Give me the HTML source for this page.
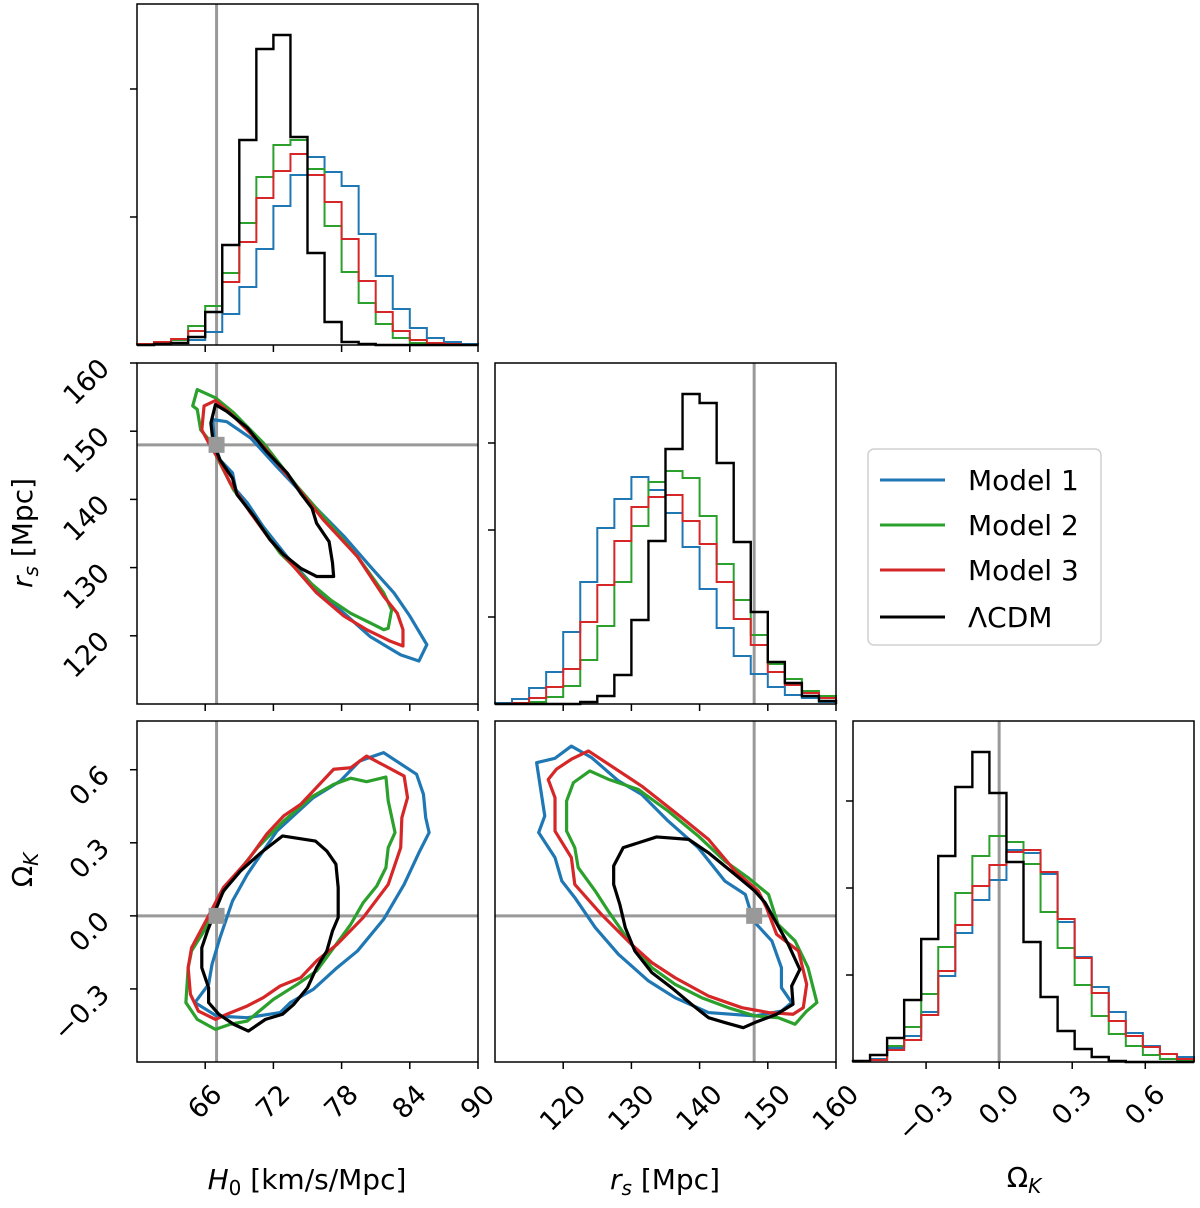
<!DOCTYPE html>
<html><head><meta charset="utf-8">
<style>
html,body{margin:0;padding:0;background:#fff;}
svg text{font-family:"DejaVu Sans","Liberation Sans",sans-serif;fill:#000;}
</style></head>
<body>
<svg id="fig" xmlns="http://www.w3.org/2000/svg" width="1200" height="1203" viewBox="0 0 1200 1203">
<rect width="1200" height="1203" fill="#fff"/>
<g id="plots"></g>
<g>
  <rect x="868" y="449" width="233" height="196" rx="6" fill="#fff" stroke="#d0d0d0" stroke-width="1.5"/>
  <g><line x1="880" y1="480" x2="945" y2="480" stroke="#1f77b4" stroke-width="3"/><text x="968" y="490" font-size="28">Model 1</text></g>
  <g><line x1="880" y1="525" x2="945" y2="525" stroke="#2ca02c" stroke-width="3"/><text x="968" y="535" font-size="28">Model 2</text></g>
  <g><line x1="880" y1="570" x2="945" y2="570" stroke="#d62728" stroke-width="3"/><text x="968" y="580" font-size="28">Model 3</text></g>
  <g><line x1="880" y1="617" x2="945" y2="617" stroke="#000" stroke-width="3"/><text x="968" y="627" font-size="28">ΛCDM</text></g>
</g>
<text x="307" y="1189" font-size="28" text-anchor="middle"><tspan font-style="italic">H</tspan><tspan font-size="20" dy="6">0</tspan><tspan dy="-6"> [km/s/Mpc]</tspan></text>
<text x="665" y="1189" font-size="28" text-anchor="middle"><tspan font-style="italic">r</tspan><tspan font-size="20" font-style="italic" dy="6">s</tspan><tspan dy="-6"> [Mpc]</tspan></text>
<text x="1024" y="1187" font-size="28" text-anchor="middle">Ω<tspan font-size="20" font-style="italic" dy="6">K</tspan></text>
<text transform="translate(32,533) rotate(-90)" font-size="28" text-anchor="middle"><tspan font-style="italic">r</tspan><tspan font-size="20" font-style="italic" dy="6">s</tspan><tspan dy="-6"> [Mpc]</tspan></text>
<text transform="translate(32,870) rotate(-90)" font-size="28" text-anchor="middle">Ω<tspan font-size="20" font-style="italic" dy="6">K</tspan></text>
</svg>
<script>
// ---- data ----
const colors = ["#1f77b4","#2ca02c","#d62728","#000000"];
const seriesNames = ["model-1","model-2","model-3","lcdm"];
const truthH0 = 67.0, truthRs = 148.0, truthOk = 0.0;
const rangeH0 = [60, 90], rangeRs = [110, 160], rangeOk = [-0.6, 0.8];
const ticksH0 = [66, 72, 78, 84, 90];
const ticksRs = [120, 130, 140, 150, 160];
const ticksOk = [-0.3, 0.0, 0.3, 0.6];
const tickLabelsH0 = ["66","72","78","84","90"];
const tickLabelsRs = ["120","130","140","150","160"];
const tickLabelsOk = ["\u22120.3","0.0","0.3","0.6"];
// histogram counts (20 bins)
const histH0Blue  = [0,1,2,5,13,31,58,96,139,170,188,173,159,111,69,36,17,7,3,1];
const histH0Green = [1,2,5,19,39,72,122,168,200,205,176,119,73,42,21,7,2,1,0,0];
const histH0Red   = [1,3,6,14,33,63,103,147,174,191,170,143,106,64,33,14,5,2,1,0];
const histH0Black = [0,1,2,8,33,100,205,296,310,208,92,23,3,1,0,0,0,0,0,0];
const histRsBlue  = [1,5,16,32,72,122,176,205,227,214,191,157,115,76,48,30,17,9,6,2];
const histRsGreen = [0,1,2,7,18,44,78,122,178,222,233,226,188,140,104,69,40,25,13,8];
const histRsRed   = [0,1,6,17,35,82,119,163,197,207,209,183,160,122,85,59,32,19,11,6];
const histRsBlack = [0,0,0,0,0,2,8,29,84,163,255,310,301,241,162,92,42,21,8,3];
const histOkBlue  = [1,3,14,26,50,86,129,162,182,212,209,188,140,105,75,50,29,16,8,5];
const histOkGreen = [1,2,16,35,68,115,169,206,226,220,198,150,114,77,46,28,16,7,3,1];
const histOkRed   = [1,2,12,22,47,91,137,176,197,210,212,190,143,104,69,41,26,15,8,3];
const histOkBlack = [1,7,24,62,123,206,275,310,269,200,120,65,31,13,5,1,0,0,0,0];
const histMax = 341;
const histTicks = [87, 174, 261];
// contours: H0 vs rs
const cHRsBlueX  = [66.7,67.9,70.0,72.3,75.3,78.2,80.5,82.6,84.0,85.5,84.8,83.2,80.5,78.5,75.8,73.2,71.1,69.7,68.7,68.4,67.3,66.8,66.7];
const cHRsBlueY  = [151.7,151.4,149.0,144.8,139.5,134.6,130.2,126.3,122.9,118.7,116.3,117.2,119.9,122.9,126.8,131.6,136.0,139.5,141.4,143.9,145.8,148.3,151.0];
const cHRsGreenX = [65.3,66.9,68.5,71.1,74.1,76.4,79.4,81.7,82.4,82.1,81.7,80.5,78.8,77.0,75.3,72.6,70.3,68.5,67.0,66.3,65.6,65.3,64.9];
const cHRsGreenY = [156.1,154.9,152.7,148.3,141.9,137.5,131.6,126.3,123.8,121.1,120.9,121.9,123.3,125.3,127.7,132.1,137.5,141.4,146.3,148.8,150.2,153.2,153.7];
const cHRsRedX   = [65.9,66.9,68.5,71.1,73.8,76.4,79.4,81.7,82.9,83.4,83.4,82.3,80.2,78.2,75.8,73.5,71.7,70.0,68.2,67.2,66.3,65.7];
const cHRsRedY   = [153.7,154.5,152.2,147.8,142.4,137.0,131.6,125.8,123.3,120.9,118.5,119.2,120.9,122.9,126.3,130.7,134.1,138.0,142.4,145.8,148.3,150.2];
const cHRsBlackX = [66.9,67.9,69.7,71.4,73.2,74.4,75.4,75.8,76.9,77.2,77.3,75.8,74.4,72.9,71.7,70.3,68.8,68.4,67.3,66.7,66.5];
const cHRsBlackY = [153.9,152.9,150.5,147.0,143.9,140.9,138.7,136.5,133.8,130.7,128.7,128.7,129.9,131.9,134.1,137.5,140.7,143.1,145.8,148.3,151.2];
// contours: H0 vs OmegaK
const cHOkBlueX  = [81.7,84.6,85.2,85.4,85.7,84.8,83.5,81.7,79.4,77.6,75.5,73.5,72.6,69.7,67.0,65.1,66.3,66.6,67.3,68.4,69.7,72.3,75.5,77.9,79.6];
const cHOkBlueY  = [0.670,0.581,0.499,0.403,0.342,0.259,0.129,-0.014,-0.144,-0.213,-0.302,-0.356,-0.397,-0.418,-0.411,-0.356,-0.281,-0.199,-0.090,0.061,0.170,0.348,0.485,0.554,0.636];
const cHOkGreenX = [78.8,80.2,81.9,82.1,82.7,82.1,81.9,81.1,79.9,78.8,77.3,75.8,74.1,72.0,69.7,68.2,66.9,65.3,64.3,64.5,64.8,65.9,67.0,68.5,70.6,72.9,75.5,77.3];
const cHOkGreenY = [0.565,0.551,0.570,0.472,0.342,0.280,0.198,0.123,0.054,-0.035,-0.131,-0.226,-0.281,-0.343,-0.432,-0.445,-0.466,-0.425,-0.356,-0.213,-0.144,-0.062,0.061,0.157,0.280,0.389,0.492,0.540];
const cHOkRedX   = [80.2,83.5,83.8,83.3,83.2,82.1,79.9,77.6,75.8,74.4,72.6,71.1,69.7,67.9,66.9,65.4,64.7,64.5,64.8,65.9,67.6,69.7,71.4,72.9,74.4,77.3,78.8];
const cHOkRedY   = [0.656,0.574,0.485,0.403,0.280,0.129,-0.007,-0.117,-0.185,-0.254,-0.288,-0.336,-0.370,-0.404,-0.425,-0.391,-0.322,-0.213,-0.131,-0.035,0.116,0.225,0.335,0.410,0.458,0.602,0.608];
const cHOkBlackX = [72.8,75.7,76.7,77.5,77.7,77.7,77.2,76.7,75.8,75.0,73.8,72.8,71.3,69.8,68.5,67.2,66.3,66.3,65.7,65.7,66.2,67.0,67.6,69.1,70.9];
const cHOkBlackY = [0.328,0.307,0.266,0.212,0.116,-0.007,-0.062,-0.144,-0.213,-0.295,-0.363,-0.404,-0.425,-0.473,-0.445,-0.404,-0.356,-0.295,-0.213,-0.131,-0.062,0.034,0.102,0.184,0.259];
// contours: rs vs OmegaK
const cRsOkBlueX  = [121.2,124.2,128.1,131.5,135.4,139.8,143.7,146.7,147.9,150.6,152.0,152.0,153.5,152.0,148.1,141.3,136.4,132.5,128.1,124.7,121.7,119.8,118.8,116.4,117.3,116.1,118.8];
const cRsOkBlueY  = [0.697,0.649,0.554,0.499,0.389,0.280,0.143,0.088,-0.021,-0.103,-0.213,-0.295,-0.356,-0.391,-0.411,-0.397,-0.336,-0.267,-0.158,-0.048,0.075,0.143,0.239,0.342,0.410,0.629,0.647];
const cRsOkGreenX = [123.9,126.6,131.0,135.4,139.8,143.7,147.1,150.1,151.5,154.0,155.9,157.2,155.7,154.0,151.5,148.1,144.2,140.3,136.4,133.0,130.0,126.6,124.7,122.2,121.7,120.5,120.5,121.5];
const cRsOkGreenY = [0.595,0.561,0.519,0.430,0.328,0.225,0.157,0.088,-0.035,-0.103,-0.213,-0.356,-0.391,-0.445,-0.418,-0.411,-0.377,-0.336,-0.281,-0.213,-0.117,0.020,0.102,0.198,0.280,0.348,0.472,0.547];
const cRsOkRedX   = [123.7,131.5,137.4,141.3,145.2,148.6,149.8,151.3,154.5,155.7,155.2,153.7,150.1,146.2,141.3,136.4,133.0,130.0,125.6,121.7,121.2,118.8,118.8,117.8,119.0,121.2];
const cRsOkRedY   = [0.677,0.533,0.403,0.314,0.184,0.102,0.034,-0.076,-0.144,-0.281,-0.377,-0.404,-0.397,-0.377,-0.329,-0.254,-0.192,-0.117,0.006,0.129,0.239,0.348,0.485,0.560,0.602,0.643];
const cRsOkBlackX = [128.8,133.7,138.4,141.3,145.2,148.1,149.6,151.1,153.0,154.7,153.5,153.7,151.3,148.1,146.4,143.7,141.3,138.8,135.9,133.0,130.5,129.1,128.3,127.4,127.4];
const cRsOkBlackY = [0.280,0.324,0.314,0.259,0.170,0.102,0.054,-0.021,-0.117,-0.220,-0.288,-0.363,-0.404,-0.438,-0.459,-0.438,-0.418,-0.363,-0.295,-0.233,-0.144,-0.048,0.047,0.129,0.205];

// ---- drawing ----
const NS = "http://www.w3.org/2000/svg";
const root = document.getElementById("plots");
function mk(tag, parent, attrs) {
  const e = document.createElementNS(NS, tag);
  for (const k in attrs) e.setAttribute(k, attrs[k]);
  parent.appendChild(e);
  return e;
}
function lin(d0, d1, p0, p1) { return v => p0 + (v - d0) / (d1 - d0) * (p1 - p0); }

const colX = [137, 495, 853], rowY = [4, 363, 721], PW = 341, PH = 341;

function panel(name, col, row) {
  const g = mk("g", root, {});
  
  
  return {g, x0: colX[col], y0: rowY[row]};
}
function spine(p) {
  const r = mk("rect", p.g, {x: p.x0, y: p.y0, width: PW, height: PH, fill: "none", stroke: "#000", "stroke-width": 1.5});
  
  
}
function xTicks(p, sx, ticks, labels) {
  const yb = p.y0 + PH;
  ticks.forEach((t, i) => {
    const x = sx(t);
    const l = mk("line", p.g, {x1: x, y1: yb, x2: x, y2: yb + 7, stroke: "#000", "stroke-width": 1.5});
    
    
    if (labels) {
      const tx = mk("text", p.g, {"font-size": 27, "text-anchor": "middle", "dominant-baseline": "central"});
      tx.textContent = labels[i];
      
      
      const w = tx.getComputedTextLength();
      const s = (w + 20) * 0.7071;
      tx.setAttribute("transform", `translate(${x},${yb + 21 + s / 2}) rotate(-45)`);
    }
  });
}
function yTicks(p, sy, ticks, labels) {
  ticks.forEach((t, i) => {
    const y = sy(t);
    const l = mk("line", p.g, {x1: p.x0 - 7, y1: y, x2: p.x0, y2: y, stroke: "#000", "stroke-width": 1.5});
    
    
    if (labels) {
      const tx = mk("text", p.g, {"font-size": 27, "text-anchor": "middle", "dominant-baseline": "central"});
      tx.textContent = labels[i];
      
      
      const w = tx.getComputedTextLength();
      const s = (w + 20) * 0.7071;
      tx.setAttribute("transform", `translate(${112 - s / 2},${y + s / 2 - 6}) rotate(-45)`);
    }
  });
}
function hist(p, sx, range, counts, color, idx) {
  const sy = lin(0, histMax, p.y0 + PH, p.y0);
  const n = counts.length, bw = (range[1] - range[0]) / n;
  let d = `M${sx(range[0])},${sy(0)}`;
  counts.forEach((c, i) => {
    d += ` L${sx(range[0] + i * bw)},${sy(c)} L${sx(range[0] + (i + 1) * bw)},${sy(c)}`;
  });
  d += ` L${sx(range[1])},${sy(0)}`;
  const e = mk("path", p.g, {d, fill: "none", stroke: color, "stroke-width": idx === 3 ? 2.4 : 2});
  
  
}
function contour(p, sx, sy, xs, ys, color, idx) {
  const pts = xs.map((v, i) => `${sx(v)},${sy(ys[i])}`).join(" ");
  const e = mk("polygon", p.g, {points: pts, fill: "none", stroke: color, "stroke-width": 3.2, "stroke-linejoin": "round"});
  
  
}
function vline(p, x) {
  const e = mk("line", p.g, {x1: x, y1: p.y0, x2: x, y2: p.y0 + PH, stroke: "#999", "stroke-width": 3});
  
  
}
function hline(p, y) {
  const e = mk("line", p.g, {x1: p.x0, y1: y, x2: p.x0 + PW, y2: y, stroke: "#999", "stroke-width": 3});
  
  
}
function marker(p, x, y) {
  const e = mk("rect", p.g, {x: x - 8, y: y - 8, width: 16, height: 16, fill: "#999"});
  
  
}

const sxH0 = lin(rangeH0[0], rangeH0[1], colX[0], colX[0] + PW);
const sxRs = lin(rangeRs[0], rangeRs[1], colX[1], colX[1] + PW);
const sxOk = lin(rangeOk[0], rangeOk[1], colX[2], colX[2] + PW);
const syRs = lin(rangeRs[0], rangeRs[1], rowY[1] + PH, rowY[1]);
const syOk = lin(rangeOk[0], rangeOk[1], rowY[2] + PH, rowY[2]);
const syHist0 = lin(0, histMax, rowY[0] + PH, rowY[0]);
const syHist1 = lin(0, histMax, rowY[1] + PH, rowY[1]);
const syHist2 = lin(0, histMax, rowY[2] + PH, rowY[2]);

let p = panel("histogram-h0", 0, 0);
vline(p, sxH0(truthH0));
[histH0Blue, histH0Green, histH0Red, histH0Black].forEach((h, i) => hist(p, sxH0, rangeH0, h, colors[i], i));
spine(p); xTicks(p, sxH0, ticksH0, null); yTicks(p, syHist0, [128, 256], null);

p = panel("contour-h0-rs", 0, 1);
vline(p, sxH0(truthH0)); hline(p, syRs(truthRs));
contour(p, sxH0, syRs, cHRsBlueX, cHRsBlueY, colors[0], 0);
contour(p, sxH0, syRs, cHRsGreenX, cHRsGreenY, colors[1], 1);
contour(p, sxH0, syRs, cHRsRedX, cHRsRedY, colors[2], 2);
contour(p, sxH0, syRs, cHRsBlackX, cHRsBlackY, colors[3], 3);
marker(p, sxH0(truthH0), syRs(truthRs));
spine(p); xTicks(p, sxH0, ticksH0, null); yTicks(p, syRs, ticksRs, tickLabelsRs);

p = panel("histogram-rs", 1, 1);
vline(p, sxRs(truthRs));
[histRsBlue, histRsGreen, histRsRed, histRsBlack].forEach((h, i) => hist(p, sxRs, rangeRs, h, colors[i], i));
spine(p); xTicks(p, sxRs, ticksRs, null); yTicks(p, syHist1, histTicks, null);

p = panel("contour-h0-omegak", 0, 2);
vline(p, sxH0(truthH0)); hline(p, syOk(truthOk));
contour(p, sxH0, syOk, cHOkBlueX, cHOkBlueY, colors[0], 0);
contour(p, sxH0, syOk, cHOkGreenX, cHOkGreenY, colors[1], 1);
contour(p, sxH0, syOk, cHOkRedX, cHOkRedY, colors[2], 2);
contour(p, sxH0, syOk, cHOkBlackX, cHOkBlackY, colors[3], 3);
marker(p, sxH0(truthH0), syOk(truthOk));
spine(p); xTicks(p, sxH0, ticksH0, tickLabelsH0); yTicks(p, syOk, ticksOk, tickLabelsOk);

p = panel("contour-rs-omegak", 1, 2);
vline(p, sxRs(truthRs)); hline(p, syOk(truthOk));
contour(p, sxRs, syOk, cRsOkBlueX, cRsOkBlueY, colors[0], 0);
contour(p, sxRs, syOk, cRsOkGreenX, cRsOkGreenY, colors[1], 1);
contour(p, sxRs, syOk, cRsOkRedX, cRsOkRedY, colors[2], 2);
contour(p, sxRs, syOk, cRsOkBlackX, cRsOkBlackY, colors[3], 3);
marker(p, sxRs(truthRs), syOk(truthOk));
spine(p); xTicks(p, sxRs, ticksRs, tickLabelsRs); yTicks(p, syOk, [], null);

p = panel("histogram-omegak", 2, 2);
vline(p, sxOk(truthOk));
[histOkBlue, histOkGreen, histOkRed, histOkBlack].forEach((h, i) => hist(p, sxOk, rangeOk, h, colors[i], i));
spine(p); xTicks(p, sxOk, ticksOk, tickLabelsOk); yTicks(p, syHist2, histTicks, null);
</script>
</body></html>
